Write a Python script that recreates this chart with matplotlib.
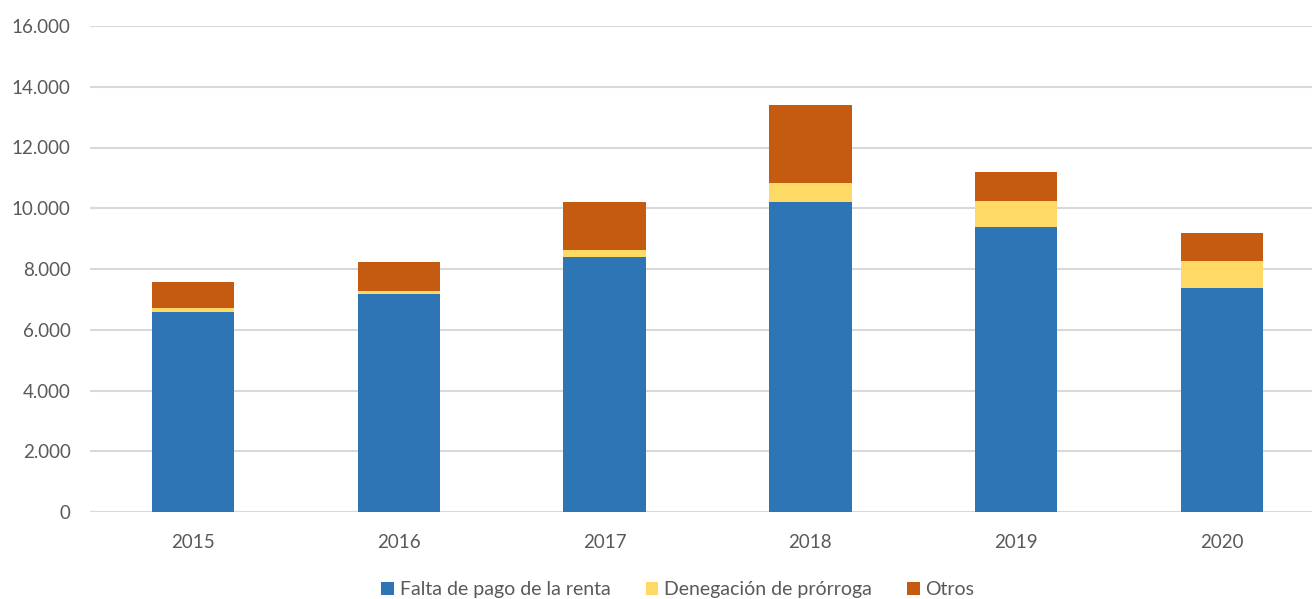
import numpy as np
import matplotlib.pyplot as plt
from matplotlib.ticker import FuncFormatter

years = ['2015', '2016', '2017', '2018', '2019', '2020']
falta_pago = [6595, 7166, 8405, 10215, 9383, 7385]
denegacion = [110, 109, 210, 616, 846, 868]
otros = [875, 945, 1600, 2568, 964, 922]

plt.rcParams['font.family'] = ['Lato', 'DejaVu Sans']

fig = plt.figure(figsize=(13.12, 5.99), dpi=100)
ax = fig.add_axes([90/1312, 1 - 512/599, 1235/1312, (512 - 26)/599])

x = np.arange(len(years))
w = 0.4
b1 = np.array(falta_pago)
b2 = b1 + np.array(denegacion)
ax.bar(x, falta_pago, w, color='#2E75B6', label='Falta de pago de la renta', zorder=3)
ax.bar(x, denegacion, w, bottom=b1, color='#FFD966', label='Denegación de prórroga', zorder=3)
ax.bar(x, otros, w, bottom=b2, color='#C55A11', label='Otros', zorder=3)

ax.set_xlim(-0.5, 5.5)
ax.set_ylim(0, 16000)
ax.set_yticks(range(0, 16001, 2000))
ax.yaxis.set_major_formatter(FuncFormatter(lambda v, p: '{:,.0f}'.format(v).replace(',', '.')))
ax.set_xticks(x)
ax.set_xticklabels(years)
ax.grid(axis='y', color='#D9D9D9', linewidth=1.5, zorder=0)
for s in ax.spines.values():
    s.set_visible(False)
ax.tick_params(length=0, labelsize=13.5, colors='#595959')
ax.tick_params(axis='y', pad=14)
ax.tick_params(axis='x', pad=16)

ax.legend(loc='lower center', bbox_to_anchor=(0.476, -0.213), ncol=3, frameon=False,
          fontsize=14, handlelength=0.65, handleheight=0.65, handletextpad=0.3,
          columnspacing=1.8, labelcolor='#595959')

plt.savefig('out.png')
